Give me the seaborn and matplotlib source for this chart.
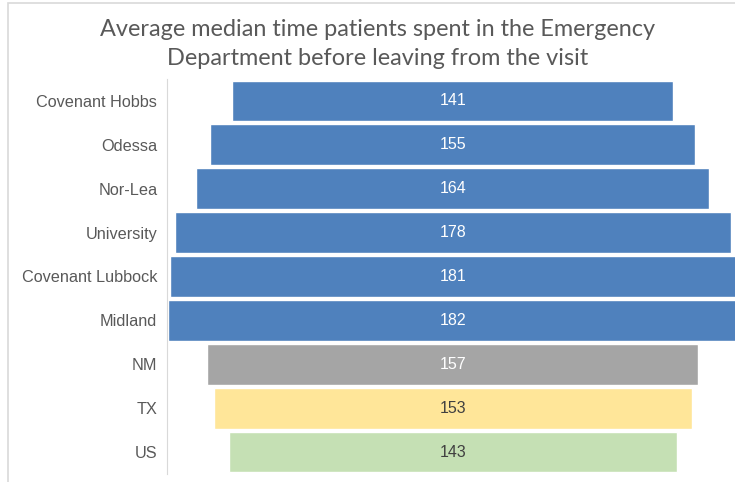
import matplotlib
matplotlib.use("Agg")
import matplotlib.pyplot as plt
import seaborn as sns
import pandas as pd
from matplotlib.patches import Rectangle

# dados
locais = ["Covenant Hobbs", "Odessa", "Nor-Lea", "University", "Covenant Lubbock",
          "Midland", "NM", "TX", "US"]
tempos = [141, 155, 164, 178, 181, 182, 157, 153, 143]
cores = ["#4F81BD"] * 6 + ["#A5A5A5", "#FFE699", "#C5E0B4"]
cores_texto = ["white"] * 7 + ["#404040", "#404040"]

df = pd.DataFrame({"local": locais, "tempo": tempos})

sns.set_style("white")
plt.rcParams["font.family"] = ["Liberation Sans", "DejaVu Sans"]

fig = plt.figure(figsize=(7.35, 4.82), dpi=100)
ax = fig.add_axes([167 / 735, 1 - 474 / 482, 1 - 167 / 735, (474 - 79) / 482])

sns.barplot(data=df, x="tempo", y="local", hue="local", palette=cores,
            legend=False, width=0.93, saturation=1, ax=ax, orient="h")

# centralizar as barras (funil)
for p in ax.patches:
    w = p.get_width()
    p.set_x(-w / 2)

for i, v in enumerate(tempos):
    ax.text(0, i, str(v), color=cores_texto[i], ha="center", va="center", fontsize=11.5)

ax.set_xlim(-91.4, 90.2)
ax.set_ylim(8.5, -0.5)
ax.set_xlabel("")
ax.set_ylabel("")
ax.set_xticks([])
ax.tick_params(axis="y", length=0, labelsize=11.7, labelcolor="#595959", pad=7)
for s in ["top", "right", "bottom"]:
    ax.spines[s].set_visible(False)
ax.spines["left"].set_color("#D9D9D9")

fig.text(378 / 735, 1 - 44 / 482,
         "Average median time patients spent in the Emergency\nDepartment before leaving from the visit",
         ha="center", va="center", fontsize=16.9, color="#595959", family="Lato",
         linespacing=1.45)

fig.patches.append(Rectangle((8 / 735, -0.1), 1.2, 1 - 3 / 482 + 0.1,
                             transform=fig.transFigure, fill=False,
                             edgecolor="#D9D9D9", linewidth=1.2))

fig.savefig("out.png", dpi=100)
